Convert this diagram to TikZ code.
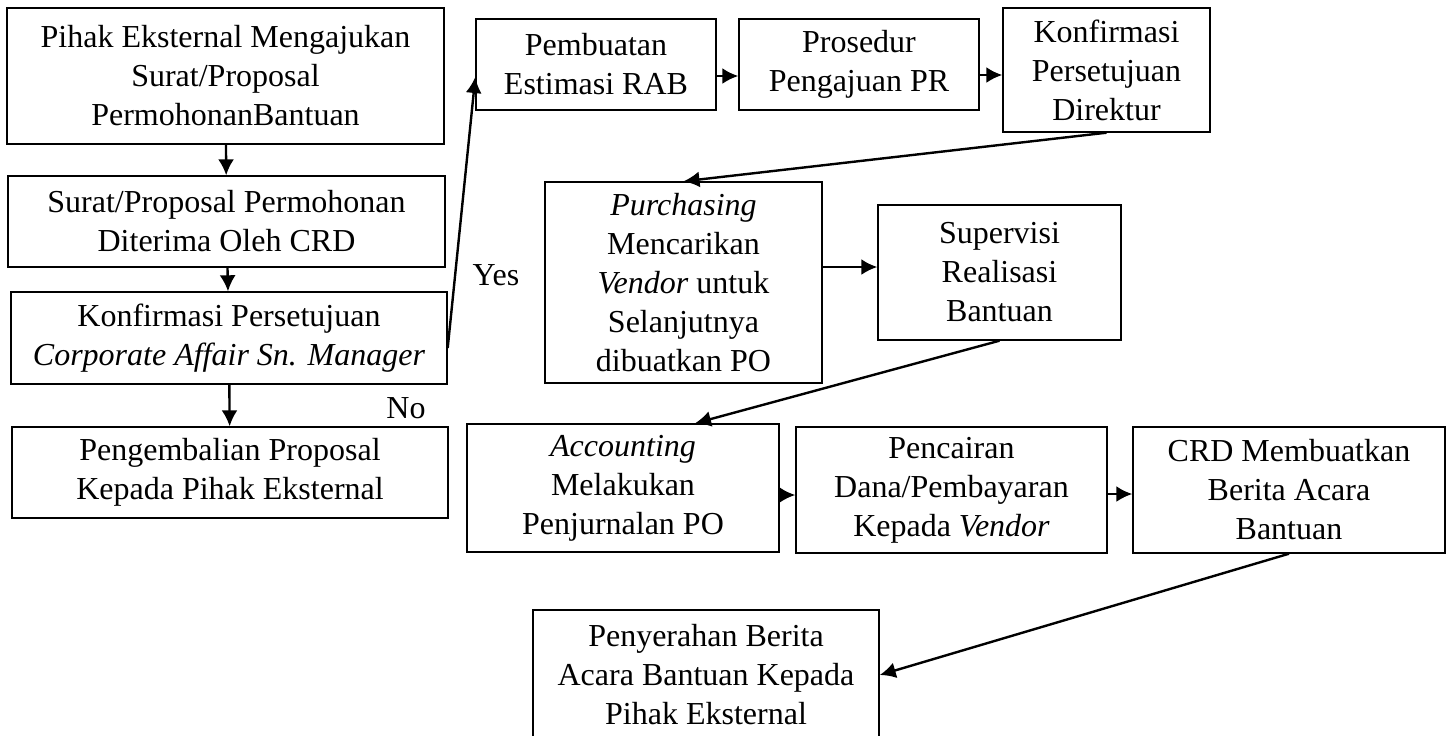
\documentclass[tikz,border=0pt]{standalone}
\usepackage{fontspec}
\setmainfont{Liberation Serif}
\usetikzlibrary{arrows.meta}
\begin{document}
\begin{tikzpicture}[x=0.5pt,y=-0.5pt,
        box/.style={draw,line width=0.7pt,align=center,inner sep=0pt,font=\fontsize{16}{19.5}\selectfont},
        arr/.style={line width=1.2pt,-{Latex[length=8pt,width=8pt]}},
        lbl/.style={font=\fontsize{16}{19.5}\selectfont}]
        \useasboundingbox (0,0) rectangle (1451,735);
        %% left column
        \node[box,minimum width=218.5pt,minimum height=68pt] (pihak) at (225.5,76) {Pihak Eksternal Mengajukan\\Surat/Proposal\\PermohonanBantuan};
        \node[box,minimum width=218.5pt,minimum height=45.5pt] (terima) at (226.5,221.5) {Surat/Proposal Permohonan\\Diterima Oleh CRD};
        \node[box,minimum width=218pt,minimum height=46pt] (konfcam) at (229,338) {Konfirmasi Persetujuan\\\textit{Corporate Affair Sn. Manager}};
        \node[box,minimum width=218pt,minimum height=45.5pt] (kembali) at (230,472.5) {Pengembalian Proposal\\Kepada Pihak Eksternal};
        %% top row
        \node[box,minimum width=120pt,minimum height=45.5pt] (rab) at (596,64.5) {Pembuatan\\Estimasi RAB};
        \node[box,minimum width=120pt,minimum height=45.5pt] (pr) at (859,64.5) {Prosedur\\Pengajuan PR};
        \node[box,minimum width=103.5pt,minimum height=62pt] (direktur) at (1106.5,70) {Konfirmasi\\Persetujuan\\Direktur};
        %% middle row
        \node[box,minimum width=138.5pt,minimum height=100.5pt] (purch) at (683.5,282.5) {\textit{Purchasing}\\Mencarikan\\\textit{Vendor} untuk\\Selanjutnya\\dibuatkan PO};
        \node[box,minimum width=121.5pt,minimum height=67.5pt] (supervisi) at (999.5,272.5) {Supervisi\\Realisasi\\Bantuan};
        %% bottom row
        \node[box,minimum width=156pt,minimum height=64pt] (akun) at (623,488) {\textit{Accounting}\\Melakukan\\Penjurnalan PO};
        \node[box,minimum width=155.5pt,minimum height=63pt] (cair) at (951.5,490) {Pencairan\\Dana/Pembayaran\\Kepada \textit{Vendor}};
        \node[box,minimum width=156pt,minimum height=63pt] (berita) at (1289,490) {CRD Membuatkan\\Berita Acara\\Bantuan};
        \node[box,minimum width=173pt,minimum height=65pt] (serah) at (706,675) {Penyerahan Berita\\Acara Bantuan Kepada\\Pihak Eksternal};
        %% labels
        \node[lbl] (yes) at (496,275) {Yes};
        \node[lbl] (no) at (406,408) {No};
        %% arrows
        \draw[arr] (pihak) -- (terima);
        \draw[arr] (terima) -- (konfcam);
        \draw[arr] (konfcam) -- (kembali);
        \draw[arr] ([yshift=-5pt]konfcam.east) -- ([yshift=-6.25pt]rab.west);
        \draw[arr] ([yshift=-5.75pt]rab.east) -- ([yshift=-5.75pt]rab.east -| pr.west);
        \draw[arr] ([yshift=-5.25pt]pr.east) -- ([yshift=-5.25pt]pr.east -| direktur.west);
        \draw[arr] (direktur.south) -- (purch.north);
        \draw[arr] ([yshift=7.75pt]purch.east) -- ([yshift=7.75pt]purch.east -| supervisi.west);
        \draw[arr] (supervisi.south) -- ([xshift=36pt]akun.north);
        \draw[arr] ([yshift=-3.5pt]akun.east) -- ([yshift=-3.5pt]akun.east -| cair.west);
        \draw[arr] ([yshift=-2pt]cair.east) -- ([yshift=-2pt]cair.east -| berita.west);
        \draw[arr] (berita.south) -- (serah.east);
    \end{tikzpicture}
\end{document}
